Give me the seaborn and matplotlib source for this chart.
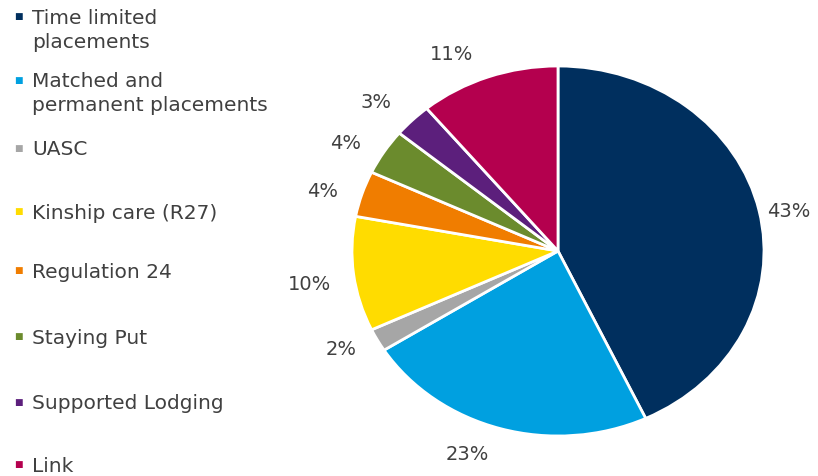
import matplotlib
matplotlib.use("Agg")
import matplotlib.pyplot as plt
import seaborn as sns

categories = ["Time limited\nplacements", "Matched and\npermanent placements", "UASC",
              "Kinship care (R27)", "Regulation 24", "Staying Put",
              "Supported Lodging", "Link"]
values = [43, 23, 2, 10, 4, 4, 3, 11]
pct_labels = ["43%", "23%", "2%", "10%", "4%", "4%", "3%", "11%"]
colors = ["#002f5e", "#00a0e0", "#a6a6a6", "#ffdc00", "#f07d00", "#6b8b2d", "#5c1f7c", "#b4004e"]

# layout: label centres (pixels from top-left), as placed in the original chart
label_centres_px = [(789, 212), (467, 455), (341, 350), (310, 285),
                    (323, 192), (346, 144), (376, 103), (452, 55)]
legend_y_px = [17, 80, 148, 212, 271, 337, 402, 465]

sns.set_theme(style="white")
plt.rcParams['font.family'] = ['DejaVu Sans']
palette = sns.color_palette(colors)

W, H = 818, 477
fig = plt.figure(figsize=(W / 100, H / 100), dpi=100)
ax = fig.add_axes([0, 0, 1, 1])
cx, cy, rx, ry = 558, 252, 206, 185

wedges, texts = ax.pie(values, labels=pct_labels, colors=palette, startangle=90,
                       counterclock=False, labeldistance=1.12, radius=1,
                       wedgeprops=dict(edgecolor='white', linewidth=2),
                       textprops=dict(fontsize=14, color='#404040'))
ax.set_aspect('auto')
ax.set_xlim(-cx / rx, (W - cx) / rx)
ax.set_ylim(-(H - cy) / ry, cy / ry)
ax.axis('off')
for t, (px, py) in zip(texts, label_centres_px):
    t.set_position(((px - cx) / rx, (cy - py) / ry))
    t.set_ha('center')
    t.set_va('center')

# Legend (fixed slots, like the original)
line_h = 24
for lab, col, y in zip(categories, palette, legend_y_px):
    fig.text(18 / W, 1 - y / H, "\u25a0", color=col, fontsize=6.5, ha='center', va='center')
    for i, line in enumerate(lab.split("\n")):
        fig.text(32 / W, 1 - (y + 7 + i * line_h) / H, line, color='#404040',
                 fontsize=14.5, ha='left', va='baseline')

fig.savefig("out.png", dpi=100, facecolor='white')
